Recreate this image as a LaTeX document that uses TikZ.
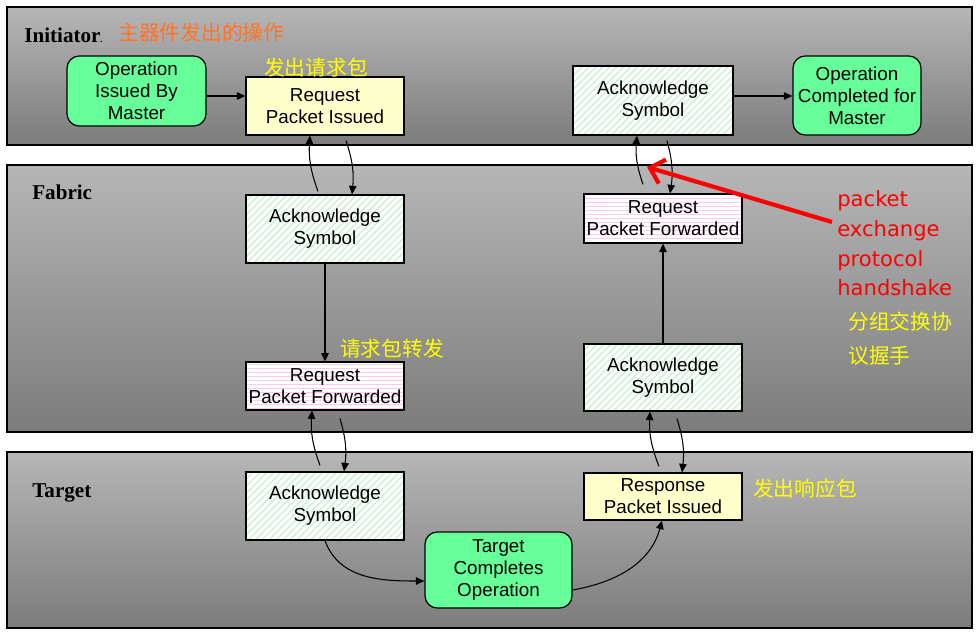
\documentclass[tikz,border=0pt]{standalone}
\usepackage{fontspec}
\setmainfont{Liberation Serif}
\setsansfont{Liberation Sans}
\newfontfamily\cjkfont{Noto Sans CJK SC}
\newfontfamily\noteFont{DejaVu Sans}
\usetikzlibrary{arrows.meta, patterns.meta, positioning, calc}
\definecolor{bandTop}{RGB}{182,182,182}
\definecolor{bandBottom}{RGB}{124,124,124}
\definecolor{opGreen}{RGB}{102,255,153}
\definecolor{pktYellow}{RGB}{255,255,204}
\definecolor{hatchGreen}{RGB}{200,242,208}
\definecolor{hatchPink}{RGB}{250,200,240}
\definecolor{noteOrange}{RGB}{255,115,40}
\definecolor{noteYellow}{RGB}{255,255,0}

\begin{document}
\begin{tikzpicture}[
        band/.style={draw=black, line width=1pt, top color=bandTop, bottom color=bandBottom},
        boxText/.style={font=\sffamily\fontsize{10.7}{12.6}\selectfont, align=center, inner sep=0pt, draw=black, line width=0.7pt},
        opNode/.style={boxText, fill=opGreen, rounded corners=7pt},
        pktNode/.style={boxText, fill=pktYellow},
        ackNode/.style={boxText, preaction={fill=white}, pattern={Lines[angle=45, distance=2.8pt, line width=0.8pt]}, pattern color=hatchGreen},
        fwdNode/.style={boxText, preaction={fill=white}, pattern={Lines[angle=0, distance=2.3pt, line width=0.5pt]}, pattern color=hatchPink},
        bandLabel/.style={font=\bfseries\fontsize{12}{14}\selectfont, anchor=base west, inner sep=0pt},
        cnNote/.style={font=\cjkfont\fontsize{11.8}{14}\selectfont, text=noteYellow, inner sep=0pt},
        conn/.style={-{Triangle[length=1.7mm, width=1.5mm]}, line width=0.6pt}
    ]
        \useasboundingbox (0,0) rectangle (19.56,-12.7);

        % bands
        \draw[band] (0.14,-0.14) rectangle (19.44,-2.90);
        \draw[band] (0.14,-3.30) rectangle (19.44,-8.64);
        \draw[band] (0.14,-9.04) rectangle (19.44,-12.56);

        \node[bandLabel] (initLabel) at (0.48,-0.86) {Initiator{\fontsize{5}{6}\selectfont.}};
        \node[bandLabel] (fabLabel) at (0.64,-3.98) {Fabric};
        \node[bandLabel] (tgtLabel) at (0.64,-9.94) {Target};

        % initiator
        \node[opNode, minimum width=2.78cm, minimum height=1.40cm] (opIssued) at (2.73,-1.82) {Operation\\Issued By\\Master};
        \node[pktNode, minimum width=3.16cm, minimum height=1.16cm] (reqIssued) at (6.50,-2.12) {Request\\Packet Issued};
        \node[ackNode, minimum width=3.20cm, minimum height=1.38cm] (ackInit) at (13.06,-2.01) {Acknowledge\\Symbol};
        \node[opNode, minimum width=2.56cm, minimum height=1.58cm] (opDone) at (17.14,-1.91) {Operation\\Completed for\\Master};

        % fabric
        \node[ackNode, minimum width=3.16cm, minimum height=1.36cm] (ackFabL) at (6.50,-4.58) {Acknowledge\\Symbol};
        \node[fwdNode, minimum width=3.16cm, minimum height=0.96cm] (fwdL) at (6.50,-7.72) {Request\\Packet Forwarded};
        \node[fwdNode, minimum width=3.16cm, minimum height=0.98cm] (fwdR) at (13.26,-4.37) {Request\\Packet Forwarded};
        \node[ackNode, minimum width=3.16cm, minimum height=1.34cm] (ackFabR) at (13.26,-7.55) {Acknowledge\\Symbol};

        % target
        \node[ackNode, minimum width=3.16cm, minimum height=1.36cm] (ackTgt) at (6.50,-10.12) {Acknowledge\\Symbol};
        \node[pktNode, minimum width=3.16cm, minimum height=0.94cm] (respTgt) at (13.26,-9.93) {Response\\Packet Issued};
        \node[opNode, minimum width=2.94cm, minimum height=1.52cm] (tgtDone) at (9.97,-11.40) {Target\\Completes\\Operation};

        % notes
        \node[font=\cjkfont\fontsize{11.8}{14}\selectfont, text=noteOrange, anchor=west, inner sep=0pt] (initNote) at (2.36,-0.66) {主器件发出的操作};
        \node[cnNote] (reqNote) at (6.32,-1.36) {发出请求包};
        \node[cnNote] (fwdNote) at (7.84,-6.98) {请求包转发};
        \node[cnNote] (respNote) at (16.10,-9.78) {发出响应包};
        \node[font=\noteFont\fontsize{12}{17}\selectfont, text=red, align=left, anchor=north west, inner sep=0pt] (handshakeNote) at (16.74,-3.80) {packet\\exchange\\protocol\\handshake};
        \node[cnNote, font=\cjkfont\fontsize{11.8}{19.3}\selectfont, align=left, anchor=north west] (handshakeCn) at (16.96,-6.24) {分组交换协\\议握手};

        % flow
        \draw[conn] (opIssued.east |- 0,-1.92) -- (reqIssued.west |- 0,-1.92);
        \draw[conn] (ackInit.east |- 0,-1.92) -- (opDone.west |- 0,-1.92);

        \draw[conn] ([xshift=-0.14cm,yshift=0.06cm]ackFabL.north) to[bend left=12] ([xshift=-0.30cm]reqIssued.south);
        \draw[conn] ([xshift=0.42cm,yshift=-0.10cm]reqIssued.south) to[bend left=12] ([xshift=0.54cm]ackFabL.north);
        \draw[conn] (ackFabL) -- (fwdL);
        \draw[conn] ([xshift=-0.10cm,yshift=0.12cm]ackTgt.north) to[bend left=12] ([xshift=-0.26cm]fwdL.south);
        \draw[conn] ([xshift=0.30cm,yshift=-0.16cm]fwdL.south) to[bend left=12] ([xshift=0.38cm]ackTgt.north);

        \draw[conn] (ackTgt.south) to[out=-70, in=180] ([yshift=-0.22cm]tgtDone.west);
        \draw[conn] ([yshift=-0.40cm]tgtDone.east) to[out=10, in=-105] ([xshift=-0.02cm]respTgt.south);

        \draw[conn] ([xshift=-0.08cm,yshift=0.12cm]respTgt.north) to[bend left=12] ([xshift=-0.26cm]ackFabR.south);
        \draw[conn] ([xshift=0.28cm,yshift=-0.14cm]ackFabR.south) to[bend left=12] ([xshift=0.38cm]respTgt.north);
        \draw[conn] (ackFabR) -- (fwdR);
        \draw[conn] ([xshift=-0.40cm,yshift=0.18cm]fwdR.north) to[bend left=12] ([xshift=-0.32cm]ackInit.south);
        \draw[conn] ([xshift=0.28cm,yshift=-0.10cm]ackInit.south) to[bend left=12] ([xshift=0.14cm]fwdR.north);

        % handshake pointer
        \coordinate (handshakeTip) at (12.94,-3.34);
        \draw[red, line width=2.4pt, -{Straight Barb[length=2.6mm, width=5mm]}] ([xshift=-0.10cm]handshakeNote.west |- 0,-4.44) -- (handshakeTip);
\end{tikzpicture}
\end{document}
